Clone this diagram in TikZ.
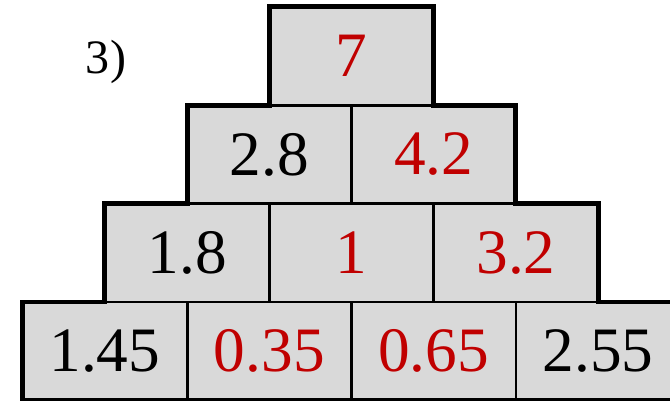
\documentclass[tikz,border=0pt]{standalone}
\usepackage{fontspec}
\setmainfont{Liberation Serif}
\usepackage{xcolor}
\usetikzlibrary{positioning}
\definecolor{cellgray}{HTML}{D9D9D9}
\definecolor{darkred}{HTML}{C00000}

\begin{document}
\begin{tikzpicture}[
    cell/.style={rectangle,draw,line width=1.2pt,fill=cellgray,inner sep=0pt,
        minimum width=4.89cm,minimum height=2.91cm,
        font=\fontsize{54}{60}\selectfont},
    found/.style={text=darkred}]
    \useasboundingbox (0,0) rectangle (20.1,-12);

    \node[cell,found] (top) at (10.545,-1.68) {7};
    \node[cell,below=0pt of top.south west] (r2a) {2.8};
    \node[cell,found,below=0pt of top.south east] (r2b) {4.2};
    \node[cell,below=0pt of r2a.south west] (r3a) {1.8};
    \node[cell,found,below=0pt of r2a.south east] (r3b) {1};
    \node[cell,found,below=0pt of r2b.south east] (r3c) {3.2};
    \node[cell,below=0pt of r3a.south west] (r4a) {1.45};
    \node[cell,found,below=0pt of r3a.south east] (r4b) {0.35};
    \node[cell,found,below=0pt of r3b.south east] (r4c) {0.65};
    \node[cell,below=0pt of r3c.south east] (r4d) {2.55};

    \node[font=\fontsize{41}{48}\selectfont] (label) at (3.18,-1.86) {3)};

    \draw[line width=4.2pt,line join=miter]
        (r4a.south west) -- (r4a.north west) -- (r3a.south west)
        -- (r3a.north west) -- (r2a.south west) -- (r2a.north west)
        -- (top.south west) -- (top.north west) -- (top.north east)
        -- (top.south east) -- (r2b.north east) -- (r2b.south east)
        -- (r3c.north east) -- (r3c.south east) -- (r4d.north east)
        -- (r4d.south east) -- cycle;
\end{tikzpicture}
\end{document}
